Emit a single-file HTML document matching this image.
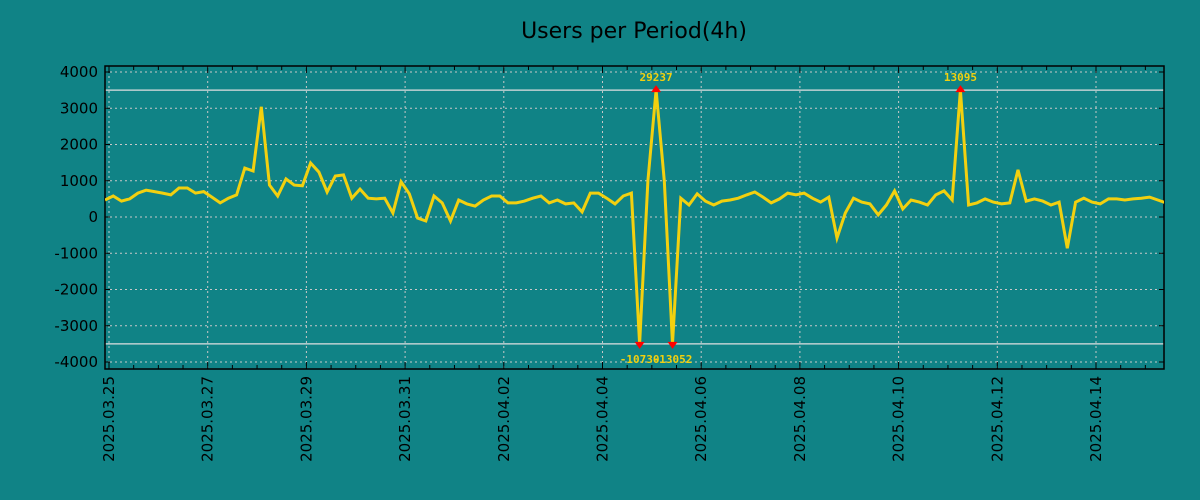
<!DOCTYPE html>
<html><head><meta charset="utf-8"><style>
html,body{margin:0;padding:0;background:#108386;}
svg{display:block;font-family:"DejaVu Sans","Liberation Sans",sans-serif;}
</style></head><body>
<svg id="chart" width="1200" height="500">
<rect x="0" y="0" width="1200" height="500" fill="#108386"/>
<text x="634" y="38" text-anchor="middle" font-size="22" fill="#000">Users per Period(4h)</text>
<g id="grid"></g>
<g id="axes"></g>
<g id="series"></g>
<g id="marks"></g>
</svg>
<script>
const values = [470,580,440,500,660,740,700,660,610,800,800,660,700,550,390,520,610,1350,1270,3040,880,580,1050,880,860,1490,1240,690,1130,1160,520,770,520,500,520,110,970,640,-30,-110,580,390,-110,470,360,300,470,580,580,390,390,440,520,580,390,470,360,390,140,660,660,520,360,580,660,-10730,1000,29237,1000,-13052,520,330,640,440,330,440,470,520,610,690,550,390,500,660,610,660,520,410,550,-580,110,520,410,360,60,330,720,220,470,410,330,610,720,470,13095,330,390,500,410,360,390,1300,440,500,440,330,410,-860,410,520,410,360,500,500,470,500,520,550,470,390,970];
const yTicks = [4000,3000,2000,1000,0,-1000,-2000,-3000,-4000];
const xTickLabels = ["2025.03.25","2025.03.27","2025.03.29","2025.03.31","2025.04.02","2025.04.04","2025.04.06","2025.04.08","2025.04.10","2025.04.12","2025.04.14"];
const clipLimit = 3500;

const L=105,R=1164,T=66,B=369;
const y=v=>217-v*0.03625;
const xDay=d=>109+d*49.35;
const xIdx=i=>xDay(-0.081+i/6);
const NS="http://www.w3.org/2000/svg";
function mk(tag,parent,attrs){const e=document.createElementNS(NS,tag);for(const k in attrs)e.setAttribute(k,attrs[k]);parent.appendChild(e);return e;}
const grid=document.getElementById('grid'),axes=document.getElementById('axes'),series=document.getElementById('series'),marks=document.getElementById('marks');

yTicks.forEach(v=>{
  const l=mk('line',grid,{x1:L,x2:R,y1:y(v),y2:y(v),stroke:'#c8c8c8','stroke-width':1,'stroke-dasharray':'2,3'});
  
  
  const t=mk('line',axes,{x1:L,x2:L+5,y1:y(v),y2:y(v),stroke:'#000'});
  
  
  const t2=mk('line',axes,{x1:R-5,x2:R,y1:y(v),y2:y(v),stroke:'#000'});
  
  
  const tx=mk('text',axes,{x:98,y:y(v)+5,'text-anchor':'end','font-size':15,fill:'#000'});
  tx.textContent=String(v);
  
  
});
[clipLimit,-clipLimit].forEach(v=>{
  const l=mk('line',grid,{x1:L,x2:R,y1:y(v),y2:y(v),stroke:'#e0e0e0','stroke-width':1.2});
  
  
});
xTickLabels.forEach((s,k)=>{
  const xx=xDay(k*2);
  const l=mk('line',grid,{x1:xx,x2:xx,y1:T,y2:B,stroke:'#c8c8c8','stroke-width':1,'stroke-dasharray':'2,3'});
  
  
  const tx=mk('text',axes,{x:0,y:0,'text-anchor':'end','font-size':15,fill:'#000',transform:`translate(${xx+5},${B+7}) rotate(-90)`});
  tx.textContent=s;
  
  
});
for(let h=0;h<=42;h++){
  const xx=xDay(h/2); if(xx>R) break;
  const len=h%4===0?7:4;
  const t=mk('line',axes,{x1:xx,x2:xx,y1:B-len,y2:B,stroke:'#000'});
  
  
  const t2=mk('line',axes,{x1:xx,x2:xx,y1:T,y2:T+len,stroke:'#000'});
  
  
}
const frame=mk('rect',axes,{x:L,y:T,width:R-L,height:B-T,fill:'none',stroke:'#000','stroke-width':1.5});



const clip=v=>Math.max(-clipLimit,Math.min(clipLimit,v));
const pts=values.map((v,i)=>`${xIdx(i).toFixed(1)},${y(clip(v)).toFixed(1)}`).join(' ');
const cp=mk('clipPath',document.getElementById('chart'),{id:'pc'});
mk('rect',cp,{x:L,y:T,width:R-L,height:B-T});
const line=mk('polyline',series,{points:pts,fill:'none',stroke:'#f2d00f','stroke-width':3,'stroke-linejoin':'miter','clip-path':'url(#pc)'});



values.forEach((v,i)=>{
  if(Math.abs(v)<=clipLimit) return;
  const xx=xIdx(i), yy=y(clip(v)), up=v>0;
  const tri=mk('polygon',marks,{points: up?`${xx-5},${yy+2} ${xx+5},${yy+2} ${xx},${yy-5}`:`${xx-5},${yy-2} ${xx+5},${yy-2} ${xx},${yy+5}`,fill:'#ff0000'});
  
  
  const tx=mk('text',marks,{x:xx,y:up?yy-9:yy+19,'text-anchor':'middle','font-size':11,'font-weight':'bold',fill:'#f2d00f','font-family':'"DejaVu Sans Mono","Liberation Mono",monospace'});
  tx.textContent=String(v);
  
  
});
</script>
</body></html>
